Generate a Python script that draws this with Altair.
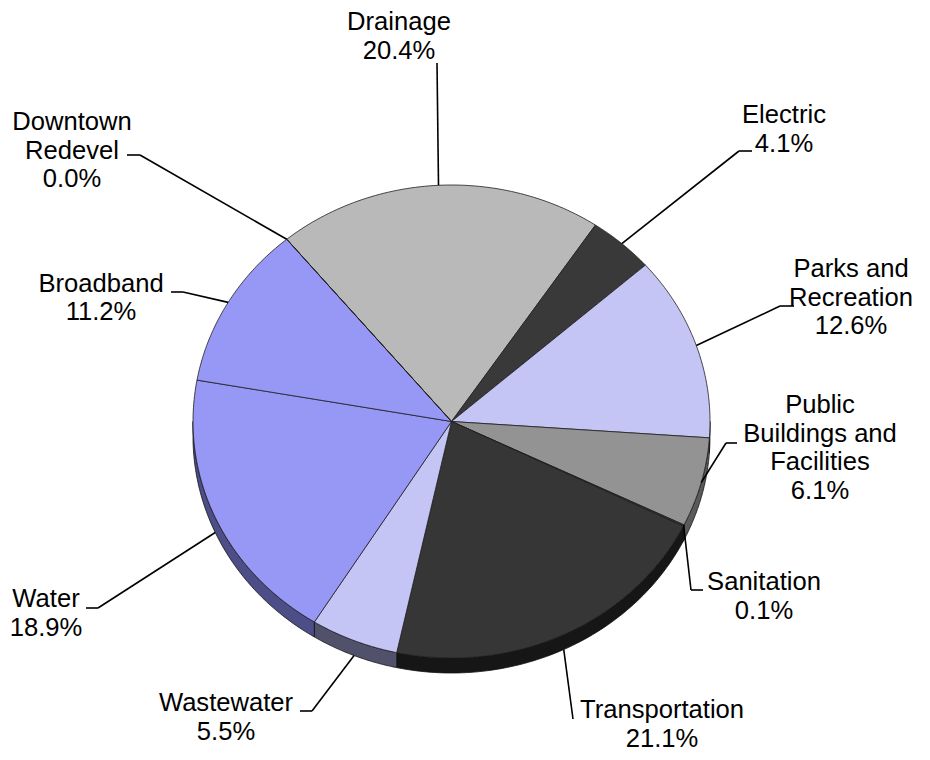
import math
import altair as alt
import pandas as pd

# ---------------- data ----------------
categories = ["Drainage", "Electric", "Parks and Recreation",
              "Public Buildings and Facilities", "Sanitation", "Transportation",
              "Wastewater", "Water", "Broadband", "Downtown Redevel"]
shares = [20.4, 4.1, 12.6, 6.1, 0.1, 21.1, 5.5, 18.9, 11.2, 0.0]
label_names = ["Drainage", "Electric", "Parks and\nRecreation",
               "Public\nBuildings and\nFacilities", "Sanitation", "Transportation",
               "Wastewater", "Water", "Broadband", "Downtown\nRedevel"]

# ---------------- styles ----------------
top_colors = ["#b9b9b9", "#393939", "#c5c5f5", "#939393", "#353535", "#363636",
              "#c5c5f5", "#9797f5", "#9797f5", "#9797f5"]
side_colors = ["#6a6a6a", "#1c1c1c", "#6c6c8c", "#5a5a5a", "#1a1a1a", "#161616",
               "#51516c", "#4d4d88", "#4d4d88", "#4d4d88"]

# ---------------- layout (page pixel coordinates) ----------------
CX, CY, RX, RY, DEPTH = 451.5, 421.5, 258.5, 236.5, 15
START = math.radians(-39.6)
N = 72
# label centre x, first baseline y, elbow x, elbow y, tick end x, drop to wall bottom
label_layout = {
    "Drainage": (399, 30, 437, 63, 437, 0),
    "Electric": (784, 123, 739, 151, 752, 0),
    "Parks and Recreation": (851, 277, 780, 306, 794, 0),
    "Public Buildings and Facilities": (820, 413, 726, 443, 737, 0),
    "Sanitation": (764, 590, 691, 590, 703, 0),
    "Transportation": (662, 718, 573, 719, 573, 1),
    "Wastewater": (226, 711, 312, 711, 300, 1),
    "Water": (46, 607, 98, 608, 86, 1),
    "Broadband": (101, 291.5, 183, 292, 171, 0),
    "Downtown Redevel": (72, 130, 140, 155, 127, 0),
}

rows = []
for i, (c, v, nm) in enumerate(zip(categories, shares, label_names)):
    lx, ly, ex, ey, tx, drop = label_layout[c]
    rows.append(dict(category=c, value=v, order=i, label=f"{nm}\n{v:.1f}%",
                     lx=lx, ly=ly, elx=ex, ely=ey, tkx=tx, drop=drop))
df = pd.DataFrame(rows)

W, H = 914, 744
xs = alt.Scale(domain=[8, 8 + W], range=[0, W], nice=False, zero=False)
ys = alt.Scale(domain=[8, 8 + H], range=[0, H], nice=False, zero=False)

base = alt.Chart(df)


def with_angles(ch):
    return (ch.transform_window(cum="sum(value)", sort=[alt.SortField("order")],
                                frame=[None, 0])
              .transform_joinaggregate(total="sum(value)")
              .transform_calculate(a0=f"{START} + 2*PI*(datum.cum - datum.value)/datum.total")
              .transform_calculate(a1=f"{START} + 2*PI*datum.cum/datum.total")
              .transform_calculate(am="(datum.a0 + datum.a1)/2"))


# side walls (3D depth), lower half only
side = (with_angles(base)
        .transform_calculate(s0="max(datum.a0, PI/2)")
        .transform_calculate(s1="min(datum.a1, 3*PI/2)")
        .transform_filter("datum.s1 > datum.s0")
        .transform_calculate(k=f"sequence(0, {2 * N + 2})")
        .transform_flatten(["k"])
        .transform_calculate(j=f"datum.k <= {N} ? datum.k : {2 * N + 1} - datum.k")
        .transform_calculate(t=f"datum.s0 + (datum.s1 - datum.s0) * datum.j / {N}")
        .transform_calculate(px=f"{CX} + {RX} * sin(datum.t)")
        .transform_calculate(py=f"{CY} - {RY} * cos(datum.t) + (datum.k > {N} ? {DEPTH} : 0)")
        .mark_line(interpolate="linear-closed", stroke="#111111", strokeWidth=0.8,
                   strokeJoin="round")
        .encode(x=alt.X("px:Q", scale=xs, axis=None),
                y=alt.Y("py:Q", scale=ys, axis=None),
                order=alt.Order("k:Q"),
                detail="category:N",
                fill=alt.Fill("category:N",
                              scale=alt.Scale(domain=categories, range=side_colors),
                              legend=None)))

# top surfaces
top = (with_angles(base)
       .transform_calculate(k=f"sequence(-1, {N + 1})")
       .transform_flatten(["k"])
       .transform_calculate(t=f"datum.a0 + (datum.a1 - datum.a0) * max(datum.k, 0) / {N}")
       .transform_calculate(px=f"datum.k < 0 ? {CX} : {CX} + {RX} * sin(datum.t)")
       .transform_calculate(py=f"datum.k < 0 ? {CY} : {CY} - {RY} * cos(datum.t)")
       .mark_line(interpolate="linear-closed", stroke="#1e1e1e", strokeWidth=0.8,
                  strokeJoin="round")
       .encode(x=alt.X("px:Q", scale=xs, axis=None),
               y=alt.Y("py:Q", scale=ys, axis=None),
               order=alt.Order("k:Q"),
               detail="category:N",
               fill=alt.Fill("category:N",
                             scale=alt.Scale(domain=categories, range=top_colors),
                             legend=None)))

lead = (with_angles(base)
        .transform_calculate(ex0=f"{CX} + {RX} * sin(datum.am)")
        .transform_calculate(ey0=f"{CY} - {RY} * cos(datum.am) + datum.drop * {DEPTH}"))

rule1 = lead.mark_rule(color="black", strokeWidth=1.6).encode(
    x=alt.X("ex0:Q", scale=xs, axis=None), y=alt.Y("ey0:Q", scale=ys, axis=None),
    x2="elx:Q", y2="ely:Q")
rule2 = lead.mark_rule(color="black", strokeWidth=1.6).encode(
    x=alt.X("elx:Q", scale=xs, axis=None), y=alt.Y("ely:Q", scale=ys, axis=None),
    x2="tkx:Q", y2="ely:Q")

text = base.mark_text(font="Liberation Sans", fontSize=25.6, lineHeight=28.5,
                      align="center", baseline="alphabetic", lineBreak="\n",
                      color="black").encode(
    x=alt.X("lx:Q", scale=xs, axis=None), y=alt.Y("ly:Q", scale=ys, axis=None),
    text="label:N")

chart = (alt.layer(side, top, rule1, rule2, text)
         .resolve_scale(fill="independent")
         .properties(width=W, height=H, autosize="none", padding=0,
                     background="white")
         .configure_view(stroke=None))

chart.save("out.html", embed_options={"renderer": "svg", "actions": False})
